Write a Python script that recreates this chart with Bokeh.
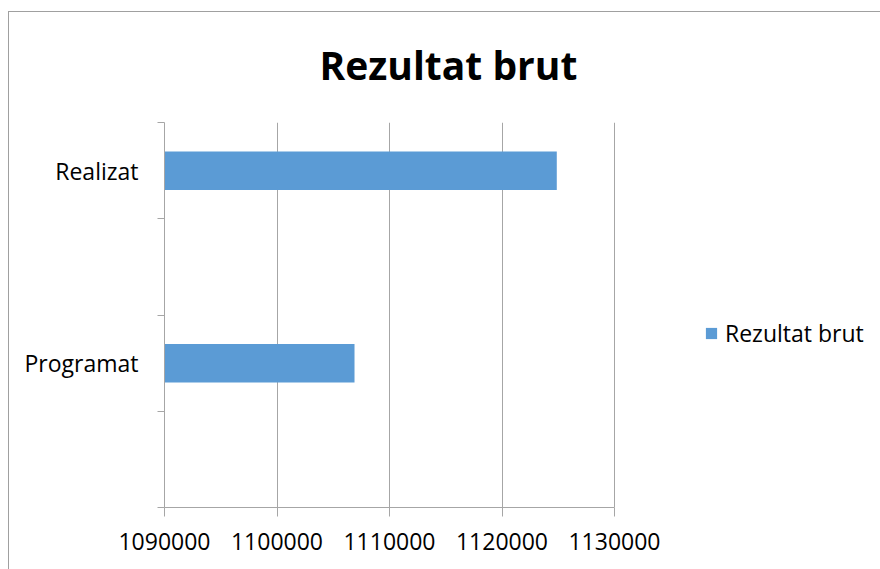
from bokeh.plotting import figure
from bokeh.models import (ColumnDataSource, FixedTicker, NumeralTickFormatter,
                          Legend, LegendItem, Title, Range1d)
from bokeh.embed import file_html
from bokeh.resources import INLINE

# ---- data ----
title_text = "Rezultat brut"
series_name = "Rezultat brut"
categories = ["", "Programat", "", "Realizat"]          # bottom to top, as in Excel
values = [None, 1106890, None, 1124870]
x_ticks = [1090000, 1100000, 1110000, 1120000, 1130000]

BAR_COLOR = "#5B9BD5"
GRID = "#A6A6A6"
FONT = "Open Sans"

x_min, x_max = x_ticks[0], x_ticks[-1]
n = len(categories)

ys, xs, names = [], [], []
for i, (c, v) in enumerate(zip(categories, values)):
    if v is not None:
        ys.append(i + 0.5)
        xs.append(v)
        names.append(c)
src = ColumnDataSource(dict(y=ys, right=xs, left=[x_min] * len(xs), name=names))

# layout (page pixels)
W, H = 880, 569
AX_LEFT, AX_RIGHT = 164, 614        # pixel span of the value axis
FRAME_TOP, FRAME_BOTTOM = 122, 507
FRAME_RIGHT = W - 4                 # frame extends right to host the legend
px_per_unit = (AX_RIGHT - AX_LEFT) / (x_max - x_min)
x_end = x_max + (FRAME_RIGHT - AX_RIGHT) / px_per_unit

p = figure(width=W, height=H, output_backend="svg", toolbar_location=None,
           x_range=Range1d(x_min, x_end), y_range=Range1d(0, n),
           min_border_left=AX_LEFT, min_border_right=W - FRAME_RIGHT,
           min_border_top=FRAME_TOP, min_border_bottom=H - FRAME_BOTTOM)
# chart-area border (top and left edges, as visible in the reference)
p.styles = {
    "background-color": "white",
    "background-image": "linear-gradient(#A0A0A0, #A0A0A0), linear-gradient(#A0A0A0, #A0A0A0)",
    "background-size": "100% 1px, 1px 100%",
    "background-position": "8px 11px, 8px 11px",
    "background-repeat": "no-repeat",
}
p.outline_line_color = None
p.background_fill_color = "white"
p.border_fill_alpha = 0

r = p.hbar(y="y", left="left", right="right", height=0.4, source=src,
           fill_color=BAR_COLOR, line_color=None)

# x axis
xa = p.xaxis[0]
xa.bounds = (x_min, x_max)
xa.ticker = FixedTicker(ticks=x_ticks)
xa.formatter = NumeralTickFormatter(format="0")
xa.axis_line_color = GRID
xa.major_tick_line_color = GRID
xa.major_tick_out = 9
xa.major_tick_in = 0
xa.minor_tick_line_color = None
xa.major_label_text_font = FONT
xa.major_label_text_font_size = "23px"
xa.major_label_text_color = "black"
xa.major_label_standoff = 16

# y axis
ya = p.yaxis[0]
ya.ticker = FixedTicker(ticks=[i + 0.5 for i in range(n)], minor_ticks=list(range(n + 1)))
ya.major_label_overrides = {i + 0.5: c for i, c in enumerate(categories)}
ya.axis_line_color = GRID
ya.major_tick_line_color = None
ya.major_tick_out = 0
ya.major_tick_in = 0
ya.minor_tick_line_color = GRID
ya.minor_tick_out = 7
ya.minor_tick_in = 0
ya.major_label_text_font = FONT
ya.major_label_text_font_size = "23px"
ya.major_label_text_color = "black"
ya.major_label_standoff = 19

p.xgrid.ticker = FixedTicker(ticks=x_ticks)
p.xgrid.grid_line_color = GRID
p.ygrid.grid_line_color = None

# title
p.add_layout(Title(text=title_text, align="left", offset=155, standoff=63,
                   text_font=FONT, text_font_size="39px", text_font_style="bold",
                   text_color="black"), "above")

legend = Legend(items=[LegendItem(label=series_name, renderers=[r])],
                location=(540, 158), orientation="vertical",
                glyph_width=14, glyph_height=14, label_standoff=7,
                label_text_font=FONT, label_text_font_size="23px",
                label_text_color="black", padding=0, margin=0, spacing=0,
                border_line_color=None, background_fill_alpha=0)
p.add_layout(legend, "center")

open("out.html", "w").write(file_html(p, INLINE))
